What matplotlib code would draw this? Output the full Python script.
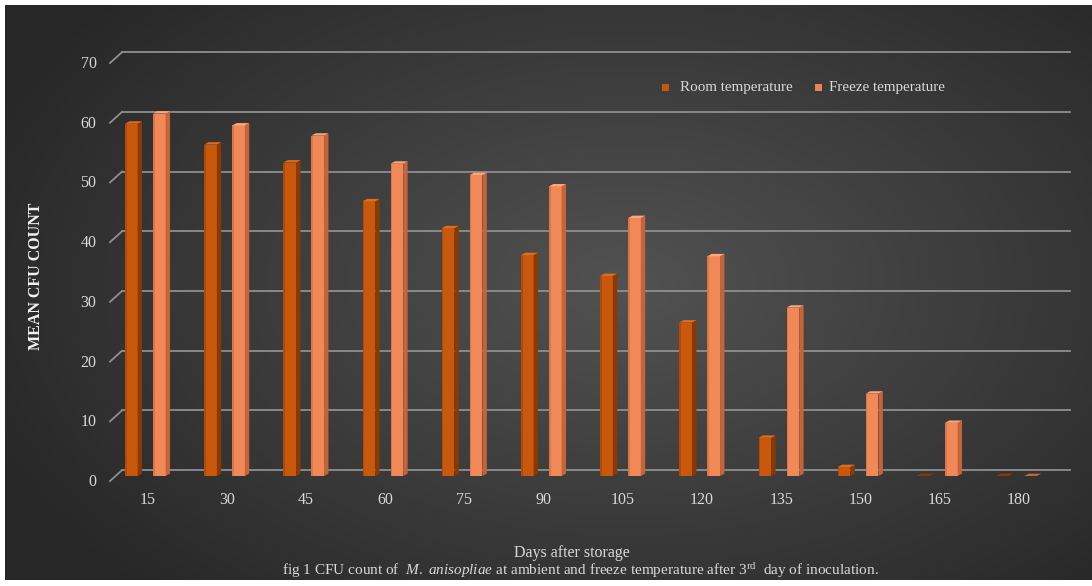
import numpy as np
import matplotlib
matplotlib.use("Agg")
import matplotlib.pyplot as plt
from matplotlib.patches import Polygon, Rectangle

# data
days = ["15", "30", "45", "60", "75", "90", "105", "120", "135", "150", "165", "180"]
room = [59.0, 55.5, 52.5, 46.0, 41.5, 37.0, 33.5, 25.7, 6.4, 1.5, 0.0, 0.0]
freeze = [60.7, 58.7, 57.0, 52.3, 50.4, 48.5, 43.2, 36.8, 28.2, 13.8, 8.9, 0.0]
yticks = [0, 10, 20, 30, 40, 50, 60, 70]
series_names = ["Room temperature", "Freeze temperature"]

plt.rcParams['font.family'] = ['Liberation Serif', 'DejaVu Serif']
plt.rcParams['mathtext.fontset'] = 'custom'
plt.rcParams['mathtext.rm'] = 'Liberation Serif'
plt.rcParams['mathtext.it'] = 'Liberation Serif:italic'

W, H = 1092, 586
fig = plt.figure(figsize=(W / 100, H / 100), dpi=100)
fig.patch.set_facecolor('white')

# dark radial gradient background
bg = fig.add_axes([5 / W, 6 / H, 1087 / W, 575 / H])
bg.axis('off')
yy, xx = np.mgrid[0:575, 0:1087]
d = np.sqrt(((xx - 620) / 700.0) ** 2 + ((yy - 280) / 430.0) ** 2)
d = np.clip(d, 0, 1)
inner = np.array([0x52, 0x52, 0x52]) / 255.0
outer = np.array([0x27, 0x27, 0x27]) / 255.0
img = inner[None, None, :] * (1 - d[..., None]) + outer[None, None, :] * d[..., None]
bg.imshow(img, aspect='auto', interpolation='bilinear')

# main axes, y=0 at pixel 476, 70 at pixel 58
x0px, x1px = 110, 1070
c0, step = 147.5, 79.2
xl = (x0px - c0) / step
xr = (x1px - c0) / step
ax = fig.add_axes([x0px / W, (H - 476) / H, (x1px - x0px) / W, 418 / H])
ax.set_facecolor('none')
ax.set_xlim(xl, xr)
ax.set_ylim(0, 70)
ax.axis('off')

grid_c = '#8f8f8f'
xback = (122 - c0) / step
for v in yticks:
    ax.plot([xback, xr], [v + 0.97, v + 0.97], color=grid_c, lw=1.3, clip_on=False, zorder=1)
    ax.plot([xl, xback], [v - 0.84, v + 0.97], color=grid_c, lw=1.3, clip_on=False, zorder=1)
    ax.text(xl - 0.17, v - 1.0, str(v), ha='right', va='center', color='#d9d9d9', fontsize=11.5)

# 3d-looking bars (front face, dark left strip, right side, top)
w = 0.215
s = 0.055
dy = 0.4
off = 0.177
styles = [
    ('#c9580c', '#b04a06', '#8a3902', '#e26c1e'),
    ('#f08857', '#dc7648', '#c4643a', '#ffa678'),
]
for k, vals in enumerate([room, freeze]):
    front, edge, side, top = styles[k]
    for i, h in enumerate(vals):
        c = i + (-off if k == 0 else off)
        a = c - w / 2
        b = c + w / 2 - s
        if h > 0:
            ax.add_patch(Rectangle((a, 0), b - a, h, facecolor=front, edgecolor='none', zorder=3))
            ax.add_patch(Rectangle((a, 0), 0.02, h, facecolor=edge, edgecolor='none', zorder=3))
            ax.add_patch(Polygon([(b, 0), (b, h), (b + s, h + dy), (b + s, dy)],
                                 closed=True, facecolor=side, edgecolor='none', zorder=3))
        ax.add_patch(Polygon([(a, h), (b, h), (b + s, h + dy), (a + s, h + dy)],
                             closed=True, facecolor=top if h > 0 else side,
                             edgecolor='none', zorder=4))

for i, lab in enumerate(days):
    ax.text(i, -4.0, lab, ha='center', va='center', color='#d9d9d9', fontsize=11.5)

# legend
leg_items = [(665, '#c8570b', 680), (818, '#e8834f', 829)]
for (mx, mc, tx), name in zip(leg_items, series_names):
    fig.add_artist(Rectangle(((mx - 3.5) / W, (H - 91) / H), 7 / W, 7 / H,
                             facecolor=mc, edgecolor='none', transform=fig.transFigure))
    fig.text(tx / W, 1 - 87 / H, name, ha='left', va='center', color='#d9d9d9', fontsize=10.8)

fig.text(36 / W, 1 - 276 / H, 'MEAN CFU COUNT', rotation=90, ha='center', va='center',
         color='#f2f2f2', fontsize=11.5, fontweight='bold')
fig.text(572 / W, 1 - 553 / H, 'Days after storage', ha='center', va='center',
         color='#d9d9d9', fontsize=11.5)
fig.text(580 / W, 1 - 571 / H,
         r'fig 1 CFU count of  $\mathit{M.\ anisopliae}$ at ambient and freeze temperature after 3$^{\mathrm{rd}}$  day of inoculation.',
         ha='center', va='center', color='#d9d9d9', fontsize=11)

fig.savefig('out.png', dpi=100, facecolor=fig.get_facecolor())
